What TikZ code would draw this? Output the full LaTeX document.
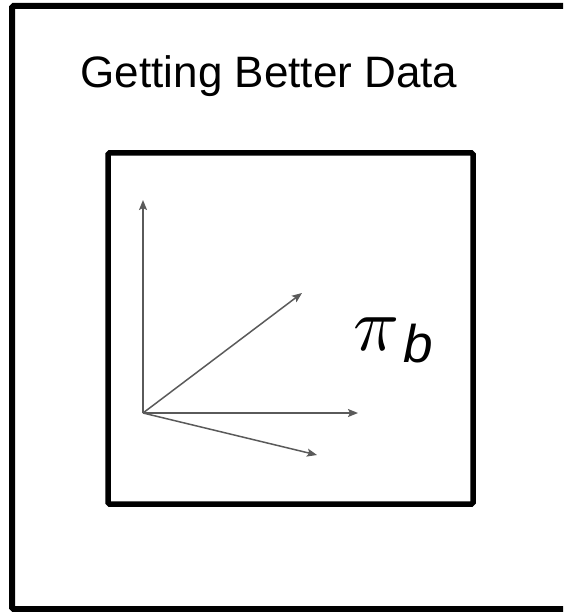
\documentclass[tikz,border=0pt]{standalone}
\usepackage{fontspec}
\setmainfont{Liberation Sans}
\usepackage{unicode-math}
\setmathfont{Latin Modern Math}
\usepackage{tikz}
\usetikzlibrary{arrows.meta,positioning,calc}
\definecolor{axisgray}{RGB}{90,90,90}
\tikzset{
  framebox/.style={draw=black, line width=6pt, rounded corners=1.5pt},
  vecarrow/.style={draw=axisgray, line width=1.5pt, -{Stealth[length=10pt,width=8pt,inset=2pt]}},
}

\begin{document}
\begin{tikzpicture}[x=1pt, y=-1pt]
    \useasboundingbox (0,0) rectangle (563,612);
    \clip (0,0) rectangle (563,612);
    % Outer frame (runs past the right edge)
    \draw[framebox] (12,6) rectangle (600,609);
    \node[font=\fontsize{44}{44}\selectfont, anchor=base] (title) at (269,88) {Getting Better Data};

    % Inner frame with the vectors
    \draw[framebox, line width=5.5pt] (108,153) rectangle (473,504);
    \coordinate (origin) at (143,413);
    \coordinate (up) at (143,200);
    \coordinate (diag) at (302,293);
    \coordinate (right) at (358,413);
    \coordinate (down) at (317,455);
    \draw[vecarrow] (origin) -- (up);
    \draw[vecarrow] (origin) -- (diag);
    \draw[vecarrow] (origin) -- (right);
    \draw[vecarrow] (origin) -- (down);

    % Policy label
    \node[anchor=base west, inner sep=0pt] (pib) at (353,350)
        {{\fontsize{76}{76}\selectfont$\pi$}\hspace{5pt}\raisebox{-12pt}{\fontsize{53}{53}\selectfont\itshape b}};
\end{tikzpicture}
\end{document}
